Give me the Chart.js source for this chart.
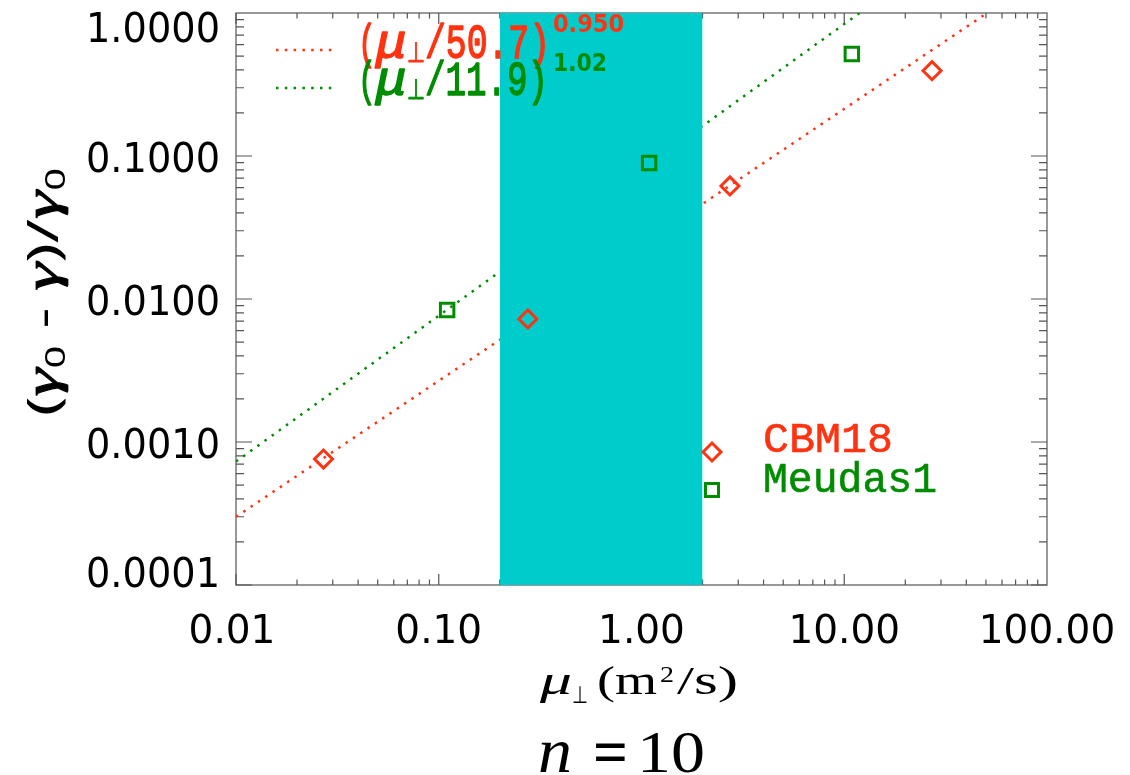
<!DOCTYPE html>
<html>
<head>
<meta charset="utf-8">
<script src="https://cdn.jsdelivr.net/npm/chart.js@4"></script>
<style>
  body { margin: 0; background: #fff; }
  #wrap { width: 1130px; height: 775px; position: relative; }
</style>
</head>
<body>
<div id="wrap"><canvas id="myChart"></canvas></div>
<script>
// Values
const cbmMu = [0.027, 0.275, 2.73, 27.1];
const cbmGrowth = [7.6e-4, 7.25e-3, 0.0617, 0.395];
const meudasMu = [0.11, 1.09, 10.9];
const meudasGrowth = [0.00837, 0.0893, 0.516];

// fit lines, endpoints (x, y)
const cbmFitMu = [0.01, 50.7];
const cbmFitGrowth = [3.0e-4, 1.0];
const meudasFitMu = [0.01, 11.9];
const meudasFitGrowth = [7.3e-4, 1.0];

// shaded range of mu
const bandMu = [0.2, 2.0];
const bandTop = [1.0, 1.0];

const xTicks = [0.01, 0.1, 1, 10, 100];
const xTickLabels = ['0.01', '0.10', '1.00', '10.00', '100.00'];
const yTicks = [1, 0.1, 0.01, 0.001, 0.0001];
const yTickLabels = ['1.0000', '0.1000', '0.0100', '0.0010', '0.0001'];

const RED = '#ff3311';
const GREEN = '#008c00';
const CYAN = '#00cccc';
const AXIS = '#555555';

function pts(xs, ys) {
  return xs.map((x, i) => ({ x: x, y: ys[i] }));
}

// text squeezed / stretched to a given width
function fitText(ctx, text, x, y, font, color, width, align, thick) {
  ctx.save();
  ctx.font = font;
  ctx.fillStyle = color;
  ctx.textBaseline = 'alphabetic';
  ctx.textAlign = 'left';
  const w = ctx.measureText(text).width;
  const s = width ? width / w : 1;
  let left = x;
  if (align === 'center') left = x - w * s / 2;
  else if (align === 'right') left = x - w * s;
  ctx.translate(left, y);
  ctx.scale(s, 1);
  ctx.fillText(text, 0, 0);
  if (thick) {
    ctx.strokeStyle = color;
    ctx.lineWidth = thick;
    ctx.lineJoin = 'round';
    ctx.strokeText(text, 0, 0);
  }
  ctx.restore();
}

function dottedSeg(ctx, x0, y0, x1, y1, color) {
  ctx.save();
  ctx.strokeStyle = color;
  ctx.lineWidth = 2.5;
  ctx.setLineDash([2.5, 6.3]);
  ctx.beginPath();
  ctx.moveTo(x0, y0);
  ctx.lineTo(x1, y1);
  ctx.stroke();
  ctx.restore();
}

const idlAxes = {
  id: 'idlAxes',
  beforeDatasetsDraw(chart) {
    const ctx = chart.ctx;
    const a = chart.chartArea;
    const xs = chart.scales.x, ys = chart.scales.y;
    ctx.save();
    ctx.strokeStyle = AXIS;
    ctx.lineWidth = 1.2;
    ctx.strokeRect(a.left, a.top, a.right - a.left, a.bottom - a.top);
    ctx.beginPath();
    // x axis ticks (bottom and top)
    for (let d = -2; d < 2; d++) {
      for (let m = 1; m <= 9; m++) {
        const px = xs.getPixelForValue(m * Math.pow(10, d));
        const len = m === 1 ? 11 : 5.5;
        ctx.moveTo(px, a.bottom); ctx.lineTo(px, a.bottom - len);
        ctx.moveTo(px, a.top); ctx.lineTo(px, a.top + len);
      }
    }
    // y axis ticks (left and right)
    for (let d = -4; d < 0; d++) {
      for (let m = 1; m <= 9; m++) {
        const py = ys.getPixelForValue(m * Math.pow(10, d));
        const len = m === 1 ? 16 : 8;
        ctx.moveTo(a.left, py); ctx.lineTo(a.left + len, py);
        ctx.moveTo(a.right, py); ctx.lineTo(a.right - len, py);
      }
    }
    ctx.stroke();
    ctx.restore();
  },
  afterDraw(chart) {
    const ctx = chart.ctx;
    const a = chart.chartArea;
    const xs = chart.scales.x, ys = chart.scales.y;

    // tick labels
    yTicks.forEach((v, i) => {
      const py = ys.getPixelForValue(v);
      const base = Math.min(Math.max(py + 16, a.top + 29), a.bottom + 2);
      fitText(ctx, yTickLabels[i], 220, base, '40px "DejaVu Sans"', '#000', 134, 'right');
    });
    xTicks.forEach((v, i) => {
      let px = xs.getPixelForValue(v);
      if (i === 0) px -= 4;
      fitText(ctx, xTickLabels[i], px, 643, '39px "DejaVu Sans"', '#000', null, 'center');
    });

    // x title
    fitText(ctx, 'μ', 540, 694, 'italic 42px "Liberation Serif"', '#000', 32);
    fitText(ctx, '⊥', 572, 703, '24px "DejaVu Sans"', '#000', 16);
    fitText(ctx, '(m', 597, 694, '40px "Liberation Serif"', '#000', 60);
    fitText(ctx, '2', 660, 682, '24px "Liberation Serif"', '#000', 14);
    fitText(ctx, '/s)', 677, 694, '40px "Liberation Serif"', '#000', 61);

    // n = 10
    fitText(ctx, 'n', 538, 772, 'italic 64px "Liberation Serif"', '#000', 34);
    fitText(ctx, '=', 593, 774, 'bold 66px "Liberation Serif"', '#000', 35);
    fitText(ctx, '10', 637, 772, '60px "Liberation Serif"', '#000', 68);

    // y title, rotated
    ctx.save();
    ctx.translate(58, 292);
    ctx.rotate(-Math.PI / 2);
    const SANS = '44px "Noto Sans"', GAM = 'italic 48px "Liberation Serif"', SUB = '27px "Noto Sans"';
    const parts = [
      { t: '(', f: SANS, dy: 0 },
      { t: 'γ', f: GAM, dy: 0 },
      { t: '0', f: SUB, dy: 7 },
      { t: ' - ', f: SANS, dy: 0 },
      { t: 'γ', f: GAM, dy: 0 },
      { t: ')/', f: SANS, dy: 0 },
      { t: 'γ', f: GAM, dy: 0 },
      { t: '0', f: SUB, dy: 7 }
    ];
    let total = 0;
    parts.forEach(p => { ctx.font = p.f; p.w = ctx.measureText(p.t).width; total += p.w; });
    const sc = 248 / total;
    ctx.scale(sc, 1);
    let cx = -total / 2;
    ctx.fillStyle = '#000';
    ctx.strokeStyle = '#000';
    ctx.lineWidth = 0.8;
    ctx.textBaseline = 'alphabetic';
    parts.forEach(p => {
      ctx.font = p.f;
      ctx.fillText(p.t, cx, p.dy);
      if (p.f === GAM) ctx.strokeText(p.t, cx, p.dy);
      cx += p.w;
    });
    ctx.restore();

    // fit legend (top left)
    dottedSeg(ctx, 276, 50, 334, 50, RED);
    dottedSeg(ctx, 276, 88, 334, 88, GREEN);
    [[RED, 58, '/50.7)', 125, '0.950', 32, 71], [GREEN, 95, '/11.9)', 123, '1.02', 71, 54]].forEach(r => {
      const [col, base, tail, tw, sup, sb, sw] = r;
      fitText(ctx, '(', 358, base, '48px "Liberation Mono"', col, 18, null, 1.5);
      fitText(ctx, 'μ', 376, base, 'italic 48px "Liberation Mono"', col, 31, null, 1.5);
      fitText(ctx, '⊥', 407, base + 4, '28px "DejaVu Sans"', col, 18, null, 1);
      fitText(ctx, tail, 425, base, '48px "Liberation Mono"', col, tw, null, 1.5);
      fitText(ctx, sup, 553, sb, 'bold 25px "DejaVu Sans"', col, sw);
    });

    // symbol legend
    ctx.save();
    ctx.lineWidth = 3;
    ctx.strokeStyle = RED;
    ctx.beginPath();
    ctx.moveTo(703, 452); ctx.lineTo(712, 443); ctx.lineTo(721, 452); ctx.lineTo(712, 461);
    ctx.closePath();
    ctx.stroke();
    ctx.strokeStyle = GREEN;
    ctx.strokeRect(705.5, 483.5, 13, 13);
    ctx.restore();
    fitText(ctx, 'CBM18', 763, 452, '42px "Liberation Mono"', RED, 130, null, 0.6);
    fitText(ctx, 'Meudas1', 763, 492, '42px "Liberation Mono"', GREEN, 174, null, 0.6);
  }
};

const ctx = document.getElementById('myChart').getContext('2d');

const data = {
  datasets: [
    {
      label: 'CBM18 fit',
      data: pts(cbmFitMu, cbmFitGrowth),
      showLine: true,
      borderColor: RED,
      borderWidth: 2.5,
      borderDash: [2.5, 6.3],
      pointRadius: 0,
      order: 5
    },
    {
      label: 'Meudas1 fit',
      data: pts(meudasFitMu, meudasFitGrowth),
      showLine: true,
      borderColor: GREEN,
      borderWidth: 2.5,
      borderDash: [2.5, 6.3],
      pointRadius: 0,
      order: 4
    },
    {
      label: 'band',
      data: pts(bandMu, bandTop),
      showLine: true,
      borderWidth: 0,
      borderColor: CYAN,
      backgroundColor: CYAN,
      fill: 'start',
      pointRadius: 0,
      order: 3
    },
    {
      label: 'Meudas1',
      data: pts(meudasMu, meudasGrowth),
      pointStyle: 'rect',
      pointRadius: 9.5,
      pointBorderWidth: 3,
      borderColor: GREEN,
      backgroundColor: 'rgba(0,0,0,0)',
      order: 2
    },
    {
      label: 'CBM18',
      data: pts(cbmMu, cbmGrowth),
      pointStyle: 'rectRot',
      pointRadius: 9,
      pointBorderWidth: 3,
      borderColor: RED,
      backgroundColor: 'rgba(0,0,0,0)',
      order: 1
    }
  ]
};

const config = {
  type: 'scatter',
  data: data,
  options: {
    responsive: true,
    maintainAspectRatio: false,
    devicePixelRatio: 1,
    animation: false,
    layout: { padding: { left: 236, right: 83, top: 13, bottom: 190 } },
    elements: { line: { tension: 0 } },
    plugins: {
      legend: { display: false },
      tooltip: { enabled: false }
    },
    scales: {
      x: { type: 'logarithmic', min: 0.01, max: 100, display: false },
      y: { type: 'logarithmic', min: 0.0001, max: 1, display: false }
    }
  },
  plugins: [idlAxes]
};

var chart = new Chart(ctx, config);
</script>
</body>
</html>
